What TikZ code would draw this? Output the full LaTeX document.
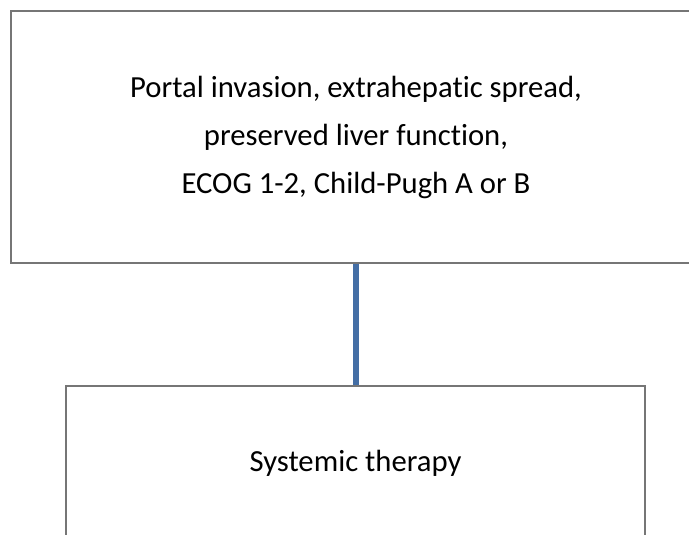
\documentclass[tikz,border=0pt]{standalone}
\usepackage{fontspec}
\setmainfont{Carlito}[Ligatures={NoCommon}]
\definecolor{boxline}{RGB}{118,118,118}
\definecolor{connblue}{RGB}{68,110,165}
\begin{document}
\begin{tikzpicture}[x=0.75pt,y=-0.75pt,
  flowbox/.style={draw=boxline, line width=1.6pt, fill=white, rectangle, inner sep=0pt,
    align=center, font=\fontsize{23}{36}\selectfont},
  conn/.style={draw=connblue, line width=3.8pt}]
\useasboundingbox (0,0) rectangle (689,535);
\node[flowbox, minimum width=690*0.75pt, minimum height=252*0.75pt] (top) at (356,137)
  {Portal invasion, extrahepatic spread,\\preserved liver function,\\ECOG 1-2, Child-Pugh A or B};
\node[flowbox, minimum width=579*0.75pt, minimum height=154*0.75pt] (bot) at (355.5,463)
  {Systemic therapy};
\draw[conn] (top.south -| 356,0) -- (bot.north -| 356,0);
\end{tikzpicture}
\end{document}
